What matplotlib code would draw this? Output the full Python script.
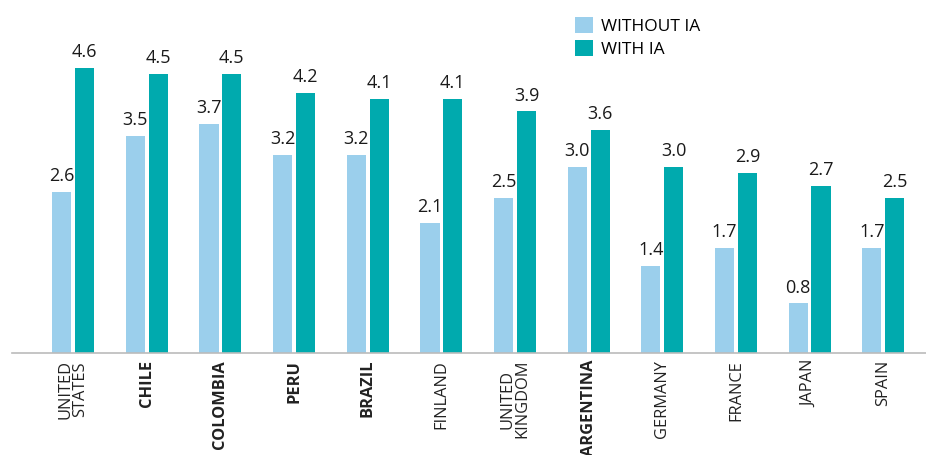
import matplotlib
matplotlib.use("Agg")
import matplotlib.pyplot as plt
import numpy as np
from matplotlib.patches import Patch

countries = ["UNITED\nSTATES", "CHILE", "COLOMBIA", "PERU", "BRAZIL", "FINLAND",
             "UNITED\nKINGDOM", "ARGENTINA", "GERMANY", "FRANCE", "JAPAN", "SPAIN"]
bold = [False, True, True, True, True, False, False, True, False, False, False, False]
without_ia = [2.6, 3.5, 3.7, 3.2, 3.2, 2.1, 2.5, 3.0, 1.4, 1.7, 0.8, 1.7]
with_ia = [4.6, 4.5, 4.5, 4.2, 4.1, 4.1, 3.9, 3.6, 3.0, 2.9, 2.7, 2.5]
series_names = ["WITHOUT IA", "WITH IA"]

light = "#9BCFEC"
teal = "#00AAAE"
font = "Open Sans"

fig = plt.figure(figsize=(9.26, 4.55), dpi=100)
ax = fig.add_axes([12/926, (455-353)/455, 1 - 12/926, 353/455])

x = np.arange(len(countries))
w = 0.26
gap = 0.05
off = (w + gap) / 2
b1 = ax.bar(x - off, without_ia, width=w, color=light)
b2 = ax.bar(x + off, with_ia, width=w, color=teal)

for bars, vals in ((b1, without_ia), (b2, with_ia)):
    for r, v in zip(bars, vals):
        ax.annotate(f"{v:.1f}", (r.get_x() + r.get_width()/2, v),
                    xytext=(0, 5), textcoords="offset points",
                    ha="center", va="bottom", fontsize=13, color="#1a1a1a",
                    family=font)

ax.set_xlim(-0.83, len(countries) - 1 + 0.58)
ax.set_ylim(0, 5.7)
for s in ("top", "right", "left"):
    ax.spines[s].set_visible(False)
ax.spines["bottom"].set_color("#BBBBBB")
ax.spines["bottom"].set_linewidth(1.2)
ax.set_yticks([])
ax.set_xticks(x)
ax.set_xticklabels(countries, rotation=90, fontsize=11.8, family=font,
                   color="#222222", linespacing=0.9)
for lbl, b in zip(ax.get_xticklabels(), bold):
    if b:
        lbl.set_fontweight("bold")
ax.tick_params(axis="x", length=0, pad=5)

handles = [Patch(facecolor=light, edgecolor="none"), Patch(facecolor=teal, edgecolor="none")]
fig.legend(handles, series_names, loc="upper left", bbox_to_anchor=(568/926, 1 - 10/455),
           frameon=False, prop={"family": font, "size": 12.5},
           handlelength=1.05, handleheight=1.05, handletextpad=0.45, labelspacing=0.3,
           borderaxespad=0)

fig.savefig("out.png", dpi=100)
